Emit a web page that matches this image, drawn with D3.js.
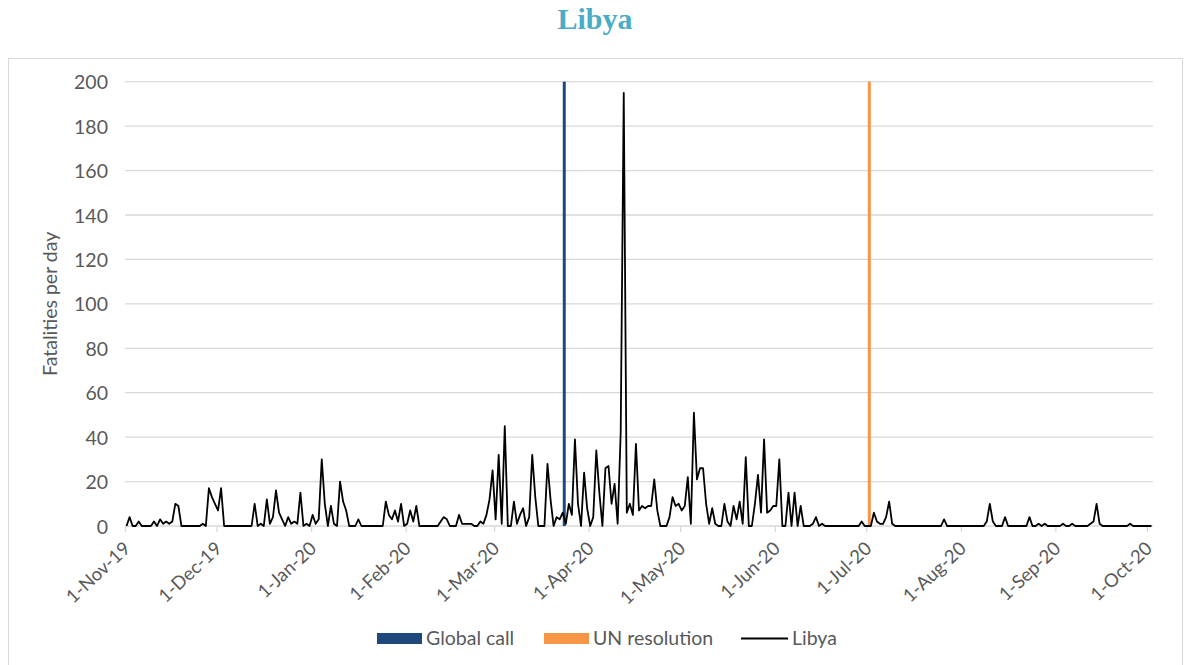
<!DOCTYPE html>
<html>
<head>
<meta charset="utf-8">
<script src="https://cdn.jsdelivr.net/npm/d3@7"></script>
<style>
  html, body { margin: 0; padding: 0; background: #fff; }
  svg { display: block; }
</style>
</head>
<body>
<svg id="chart" width="1188" height="665"></svg>
<script>
// ---- Data (daily fatalities, Libya) ----
const startDate = "2019-11-01";
const nov19 = [0,4,0,0,2,0,0,0,0,2,0,3,1,2,1,2,10,9,0,0,0,0,0,0,0,1,0,17,13,10];
const dec19 = [7,17,0,0,0,0,0,0,0,0,0,0,10,0,1,0,12,1,4,16,6,3,0,4,1,2,1,15,0,1,0];
const jan20 = [5,1,3,30,10,0,9,1,0,20,11,7,0,0,0,3,0,0,0,0,0,0,0,0,11,5,3,7,2,10,0];
const feb20 = [1,7,2,9,0,0,0,0,0,0,0,2,4,3,0,0,0,5,1,1,1,1,0,0,2,1,5,12,25];
const mar20 = [3,32,1,45,0,0,11,1,5,8,0,4,32,13,0,0,0,28,12,0,4,3,6,1,10,5,39,10,0,24,8];
const apr20 = [0,4,34,15,0,26,27,10,19,1,42,195,6,10,5,37,7,9,8,9,9,21,7,0,0,0,4,13,9,10];
const may20 = [7,9,22,1,51,21,26,26,10,1,8,1,0,0,10,2,0,9,3,11,1,31,0,0,10,23,6,39,6,7,9];
const jun20 = [9,30,0,0,15,0,15,0,9,0,0,0,1,4,0,1,0,0,0,0,0,0,0,0,0,0,0,0,2,0];
const jul20 = [0,0,6,2,1,1,4,11,1,0,0,0,0,0,0,0,0,0,0,0,0,0,0,0,0,3,0,0,0,0,0];
const aug20 = [0,0,0,0,0,0,0,0,2,10,2,0,0,0,4,0,0,0,0,0,0,0,4,0,0,1,0,1,0,0,0];
const sep20 = [0,0,1,0,0,1,0,0,0,0,0,1,2,10,1,0,0,0,0,0,0,0,0,0,1,0,0,0,0,0];
const oct20 = [0,0];

const eventDates = ["2020-03-24", "2020-07-02"];
const eventNames = ["Global call", "UN resolution"];
const eventValues = [200, 200];
const lineName = "Libya";

const yTicks = [0,20,40,60,80,100,120,140,160,180,200];
const chartTitle = "Libya";
const yTitle = "Fatalities per day";

// ---- Build series ----
const parse = d3.timeParse("%Y-%m-%d");
const t0 = parse(startDate);
const values = [].concat(nov19, dec19, jan20, feb20, mar20, apr20, may20, jun20, jul20, aug20, sep20, oct20);
const series = values.map((v, i) => ({ date: d3.timeDay.offset(t0, i), value: v }));
const t1 = d3.timeDay.offset(t0, values.length);
const mid = d => d3.timeHour.offset(d, 12);

// ---- Layout ----
const svg = d3.select("#chart");
const plot = { left: 125, right: 1153, top: 81.7, bottom: 526 };

const x = d3.scaleTime().domain([t0, t1]).range([plot.left, plot.right]);
const y = d3.scaleLinear().domain([0, 200]).range([plot.bottom, plot.top]);

const fontFam = "Lato, 'Open Sans', sans-serif";
const grey = "#595959";

// frame
svg.append("rect")
  .attr("x", 8.5).attr("y", 58.5)
  .attr("width", 1174).attr("height", 620)
  .attr("fill", "#fff").attr("stroke", "#d9d9d9").attr("stroke-width", 1);

// title
svg.append("text")
  .attr("x", 595).attr("y", 29)
  .attr("text-anchor", "middle")
  .attr("font-family", "'Liberation Serif', 'DejaVu Serif', serif")
  .attr("font-weight", "bold")
  .attr("font-size", 30)
  .attr("fill", "#4bacc6")
  .text(chartTitle);

// gridlines
svg.append("g").selectAll("line")
  .data(yTicks.filter(d => d > 0))
  .join("line")
  .attr("x1", plot.left).attr("x2", plot.right)
  .attr("y1", d => y(d)).attr("y2", d => y(d))
  .attr("stroke", "#d9d9d9").attr("stroke-width", 1.3);

// y axis labels
const yAxis = d3.axisLeft(y).tickValues(yTicks).tickSize(0).tickPadding(0);
const gy = svg.append("g").attr("transform", `translate(${plot.left - 17},0)`).call(yAxis);
gy.select(".domain").remove();
gy.selectAll("text")
  .attr("font-family", fontFam).attr("font-size", 19.5).attr("fill", grey)
  .attr("dy", "0.36em");

// y title
svg.append("text")
  .attr("transform", `translate(57,${(plot.top + plot.bottom) / 2 + 0}) rotate(-90)`)
  .attr("text-anchor", "middle")
  .attr("font-family", fontFam).attr("font-size", 19.5).attr("fill", grey)
  .text(yTitle);

// x axis
const monthTicks = d3.timeMonth.range(t0, d3.timeDay.offset(t1, 1));
const xAxis = d3.axisBottom(x).tickValues(monthTicks).tickSize(6).tickFormat(d3.timeFormat("%-d-%b-%y"));
const gx = svg.append("g").attr("transform", `translate(0,${plot.bottom})`).call(xAxis);
gx.select(".domain").attr("stroke", "#d9d9d9").attr("stroke-width", 1.3)
  .attr("d", `M${plot.left},0H${plot.right}`);
gx.selectAll(".tick line").attr("stroke", "#d9d9d9").attr("stroke-width", 1.3);
gx.selectAll(".tick text")
  .attr("font-family", fontFam).attr("font-size", 18.5).attr("fill", grey)
  .attr("text-anchor", "end")
  .attr("dy", 0).attr("y", 0)
  .attr("transform", "translate(6,24) rotate(-43)");

// event bars
const events = eventDates.map((d, i) => ({ date: parse(d), value: eventValues[i], name: eventNames[i] }));
const evColor = d3.scaleOrdinal().domain(eventNames).range(["#1f497d", "#f79646"]);
svg.append("g").selectAll("rect")
  .data(events)
  .join("rect")
  .attr("x", d => x(d.date) - 1.5)
  .attr("width", 3)
  .attr("y", d => y(d.value))
  .attr("height", d => y(0) - y(d.value))
  .attr("fill", d => evColor(d.name));

// line
const line = d3.line().x(d => x(mid(d.date))).y(d => y(d.value));
svg.append("path")
  .datum(series)
  .attr("d", line)
  .attr("fill", "none")
  .attr("stroke", "#000")
  .attr("stroke-width", 1.8)
  .attr("stroke-linejoin", "round");

// legend
const lg = svg.append("g").attr("font-family", fontFam).attr("font-size", 19.5).attr("fill", grey);
const legendItems = [
  { type: "rect", color: evColor(eventNames[0]), label: eventNames[0], x: 377 },
  { type: "rect", color: evColor(eventNames[1]), label: eventNames[1], x: 544 },
  { type: "line", color: "#000", label: lineName, x: 741 }
];
legendItems.forEach(it => {
  if (it.type === "rect") {
    lg.append("rect").attr("x", it.x).attr("y", 633).attr("width", 45).attr("height", 11).attr("fill", it.color);
  } else {
    lg.append("line").attr("x1", it.x).attr("x2", it.x + 47).attr("y1", 638.5).attr("y2", 638.5)
      .attr("stroke", it.color).attr("stroke-width", 1.8);
  }
  lg.append("text").attr("x", it.x + (it.type === "rect" ? 49 : 51)).attr("y", 645).text(it.label);
});
</script>
</body>
</html>
